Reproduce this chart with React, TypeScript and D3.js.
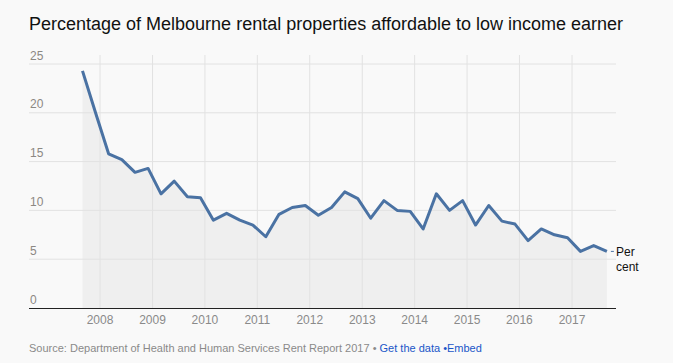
import React from "react";
import * as d3 from "d3";

// quarterly observations, Sep 2007 - Sep 2017
const dates = [
  "2007-09", "2007-12", "2008-03", "2008-06", "2008-09", "2008-12",
  "2009-03", "2009-06", "2009-09", "2009-12", "2010-03", "2010-06",
  "2010-09", "2010-12", "2011-03", "2011-06", "2011-09", "2011-12",
  "2012-03", "2012-06", "2012-09", "2012-12", "2013-03", "2013-06",
  "2013-09", "2013-12", "2014-03", "2014-06", "2014-09", "2014-12",
  "2015-03", "2015-06", "2015-09", "2015-12", "2016-03", "2016-06",
  "2016-09", "2016-12", "2017-03", "2017-06", "2017-09",
];
const values = [
  24.3, 20.0, 15.8, 15.2, 13.9, 14.3, 11.7, 13.0, 11.4, 11.3, 9.0, 9.7,
  9.0, 8.5, 7.3, 9.6, 10.3, 10.5, 9.5, 10.3, 11.9, 11.2, 9.2, 11.0,
  10.0, 9.9, 8.1, 11.7, 10.0, 11.0, 8.5, 10.5, 8.9, 8.6, 6.9, 8.1,
  7.5, 7.2, 5.8, 6.4, 5.8,
];
const yTicks = [0, 5, 10, 15, 20, 25];
const yearTicks = [2008, 2009, 2010, 2011, 2012, 2013, 2014, 2015, 2016, 2017];

const title = "Percentage of Melbourne rental properties affordable to low income earner";
const source = "Source: Department of Health and Human Services Rent Report 2017 • ";

const W = 673;
const H = 363;
const left = 29;
const right = 616;
const top = 55;
const bottom = 308;

type Pt = { date: Date; value: number };

export default function App() {
  const parse = d3.timeParse("%Y-%m");
  const data: Pt[] = dates.map((d, i) => ({ date: parse(d) as Date, value: values[i] }));

  const x = d3
    .scaleTime()
    .domain([new Date(2008, 0, 1), new Date(2017, 0, 1)])
    .range([100, 572]);
  const y = d3.scaleLinear().domain([0, 25]).range([bottom, 64]);

  const line = d3
    .line<Pt>()
    .x((d) => x(d.date))
    .y((d) => y(d.value));
  const area = d3
    .area<Pt>()
    .x((d) => x(d.date))
    .y0(y(0))
    .y1((d) => y(d.value));

  const last = data[data.length - 1];
  const font = "Arial, 'Liberation Sans', sans-serif";

  return (
    <svg
      width={W}
      height={H}
      style={{ position: "absolute", left: 0, top: 0, background: "#f9f9f9" }}
      fontFamily={font}
    >
      <rect width={W} height={H} fill="#f9f9f9" />
      <text x={29} y={30} fontSize={18} fill="#111">
        {title}
      </text>

      {/* area under line */}
      <path d={area(data) ?? ""} fill="#efefef" />

      {/* gridlines */}
      {yTicks.map((t) => (
        <g key={"y" + t}>
          {t > 0 && (
            <line x1={left} x2={right} y1={y(t)} y2={y(t)} stroke="#e2e2e2" strokeWidth={1} />
          )}
          <text x={30} y={y(t) - 4.5} fontSize={12} fill="#8c8883">
            {t}
          </text>
        </g>
      ))}
      {yearTicks.map((yr) => {
        const xx = x(new Date(yr, 0, 1));
        return (
          <g key={"x" + yr}>
            <line x1={xx} x2={xx} y1={top} y2={bottom} stroke="#e2e2e2" strokeWidth={1} />
            <text x={xx} y={324} fontSize={12} fill="#8a8a8a" textAnchor="middle">
              {yr}
            </text>
          </g>
        );
      })}

      <line x1={left} x2={right} y1={bottom + 0.5} y2={bottom + 0.5} stroke="#222" strokeWidth={1.2} />

      <path
        d={line(data) ?? ""}
        fill="none"
        stroke="#4a72a3"
        strokeWidth={3}
        strokeLinejoin="round"
      />

      {/* series label */}
      <line
        x1={x(last.date) + 4}
        x2={x(last.date) + 7}
        y1={y(last.value)}
        y2={y(last.value)}
        stroke="#4a72a3"
        strokeWidth={1}
      />
      <text x={616} y={256} fontSize={12} fill="#111">
        Per
      </text>
      <text x={616} y={271} fontSize={12} fill="#111">
        cent
      </text>

      <text x={29} y={352} fontSize={11} fill="#8a8a8a">
        {source}
        <tspan fill="#1a56c8">Get the data •Embed</tspan>
      </text>
    </svg>
  );
}
